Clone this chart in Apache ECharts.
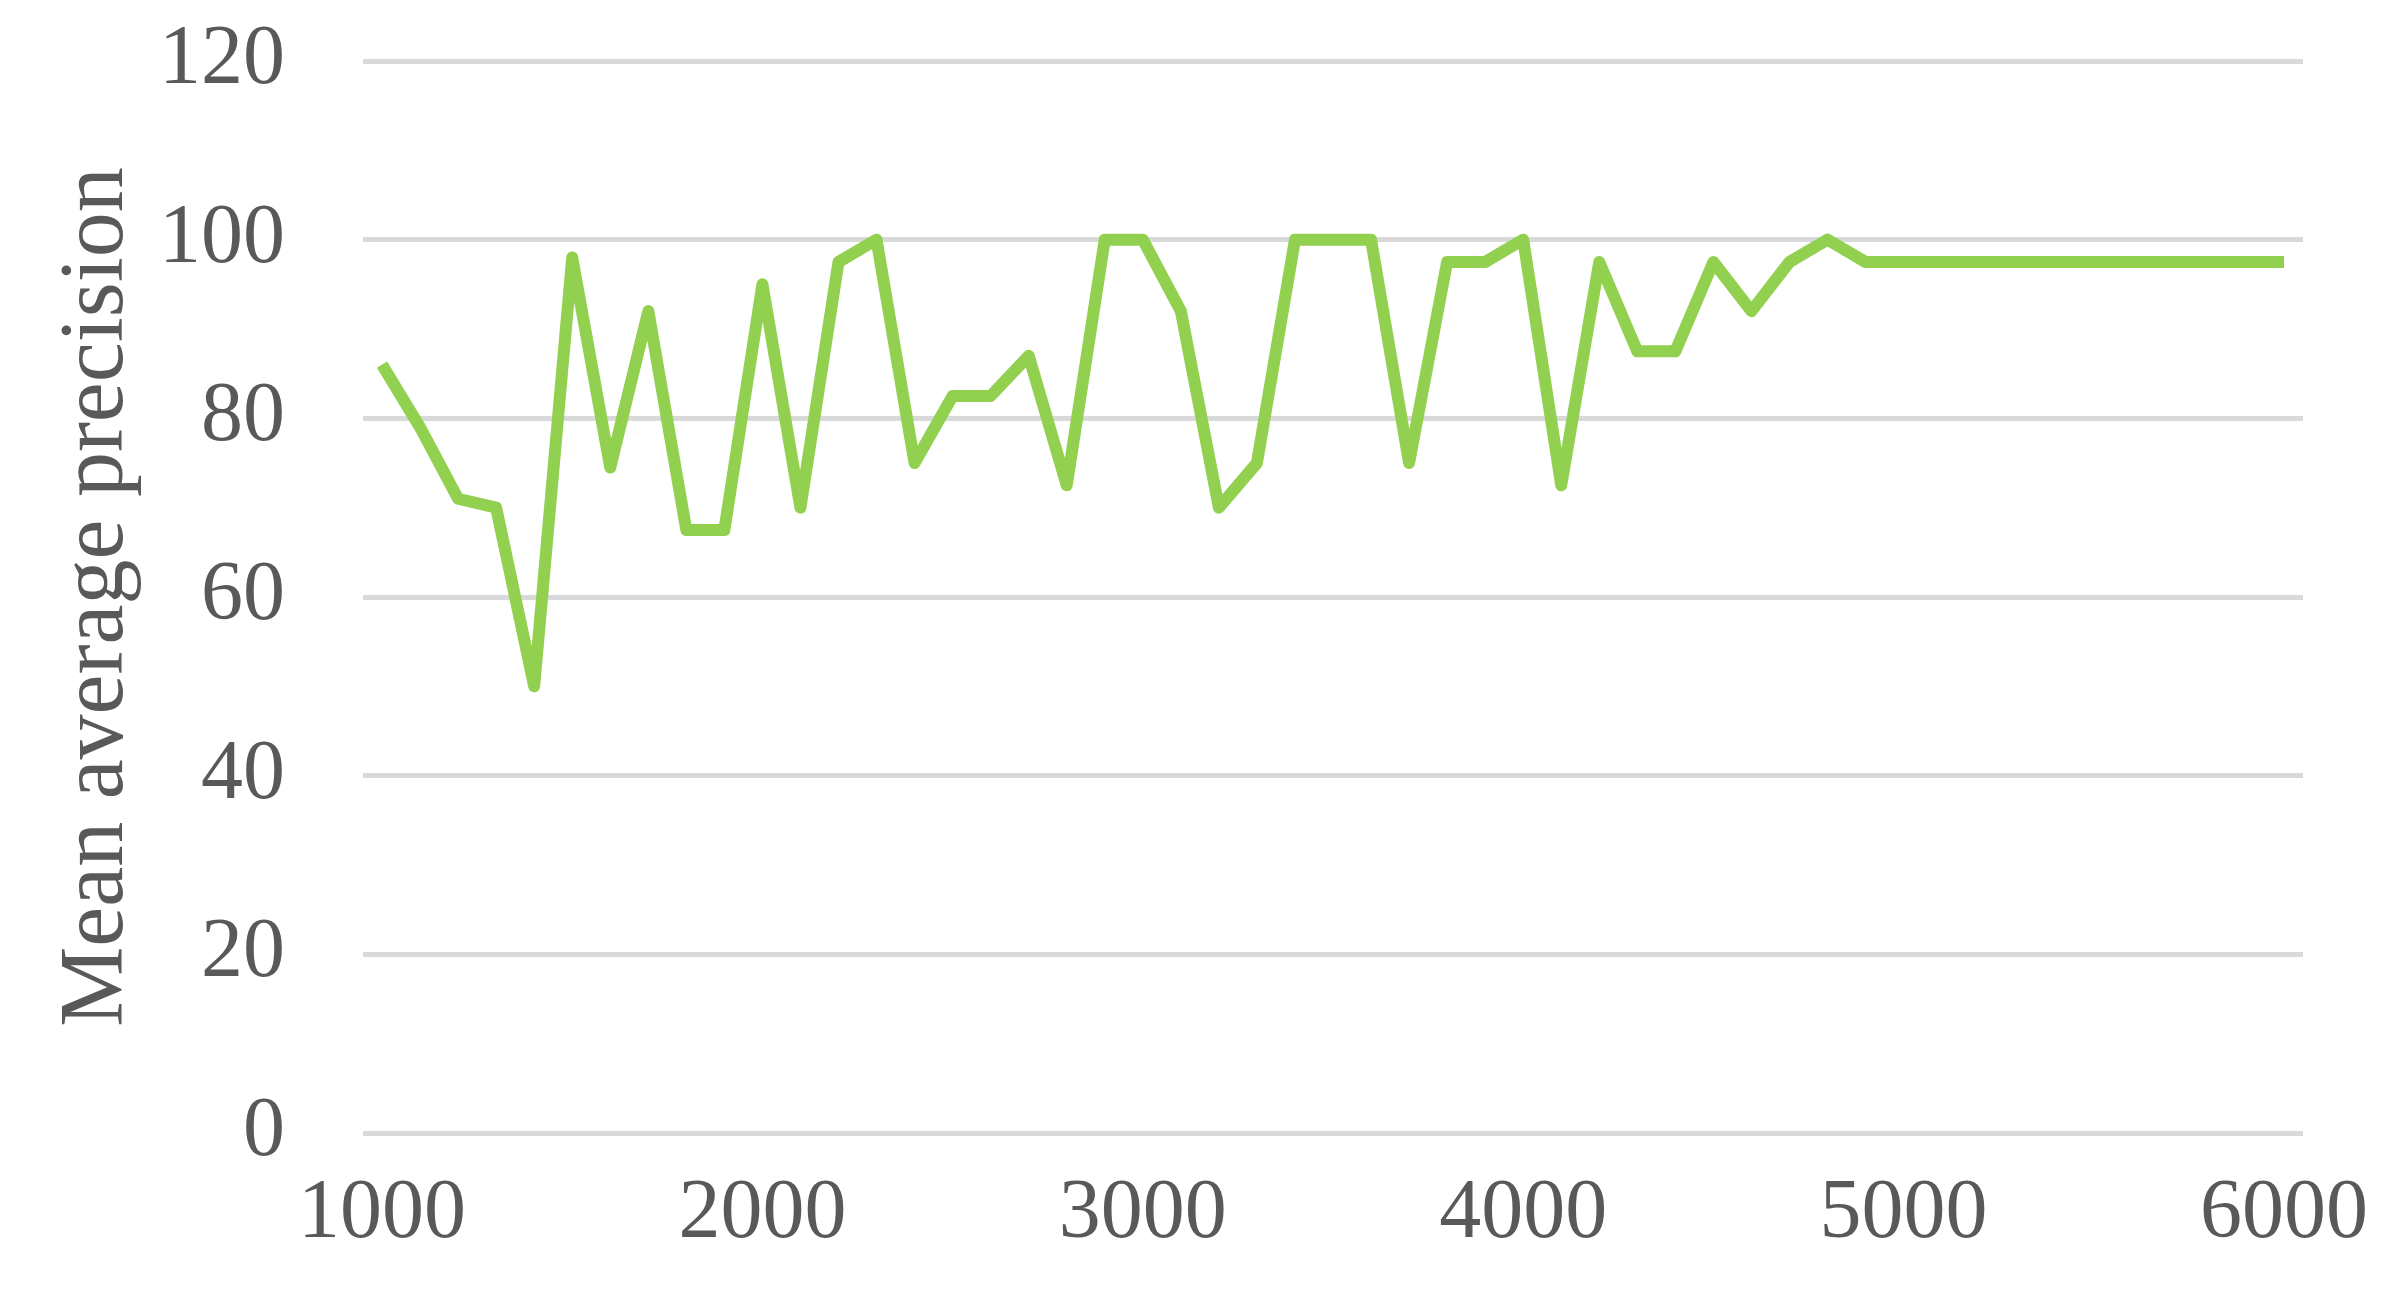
<!DOCTYPE html>
<html lang="en">
<head>
<meta charset="UTF-8">
<title>Mean average precision</title>
<style>
    html,body{margin:0;padding:0;background:#fff;}
    #main{width:2387px;height:1297px;}
</style>
</head>
<body>
<div id="main"></div>
<script src="https://cdn.jsdelivr.net/npm/echarts@6/dist/echarts.min.js"></script>
<script>
const steps = [];
for (let s = 1000; s <= 6000; s += 100) steps.push(String(s));
const head = [86, 79, 71, 70, 50, 98, 74.5, 92, 67.5, 67.5,
    95, 70, 97.5, 100, 75, 82.5, 82.5, 87, 72.5, 100,
    100, 92, 70, 75, 100, 100, 100, 75, 97.5, 97.5,
    100, 72.5, 97.5, 87.5, 87.5, 97.5, 92, 97.5, 100, 97.5];
const tail = [97.5, 97.5, 97.5, 97.5, 97.5, 97.5, 97.5, 97.5, 97.5, 97.5, 97.5];
const map = head.concat(tail);

const chart = echarts.init(document.getElementById('main'));
const font = '"Liberation Serif", "Times New Roman", serif';
chart.setOption({
    animation: false,
    grid: {left: 363, right: 84, top: 61, bottom: 164},
    xAxis: {
        type: 'category',
        data: steps,
        boundaryGap: true,
        axisLine: {show: false},
        axisTick: {show: false},
        axisLabel: {interval: 9, color: '#595959', fontFamily: font, fontSize: 84, margin: 40}
    },
    yAxis: {
        type: 'value',
        min: 0, max: 120, interval: 20,
        name: 'Mean average precision',
        nameLocation: 'middle',
        nameGap: 220,
        nameTextStyle: {color: '#595959', fontFamily: font, fontSize: 90},
        axisLabel: {color: '#595959', fontFamily: font, fontSize: 84, margin: 78},
        splitLine: {lineStyle: {color: '#d9d9d9', width: 5}}
    },
    series: [{
        type: 'line',
        data: map,
        symbol: 'none',
        lineStyle: {color: '#92d050', width: 12, join: 'round'}
    }]
});
</script>
</body>
</html>
